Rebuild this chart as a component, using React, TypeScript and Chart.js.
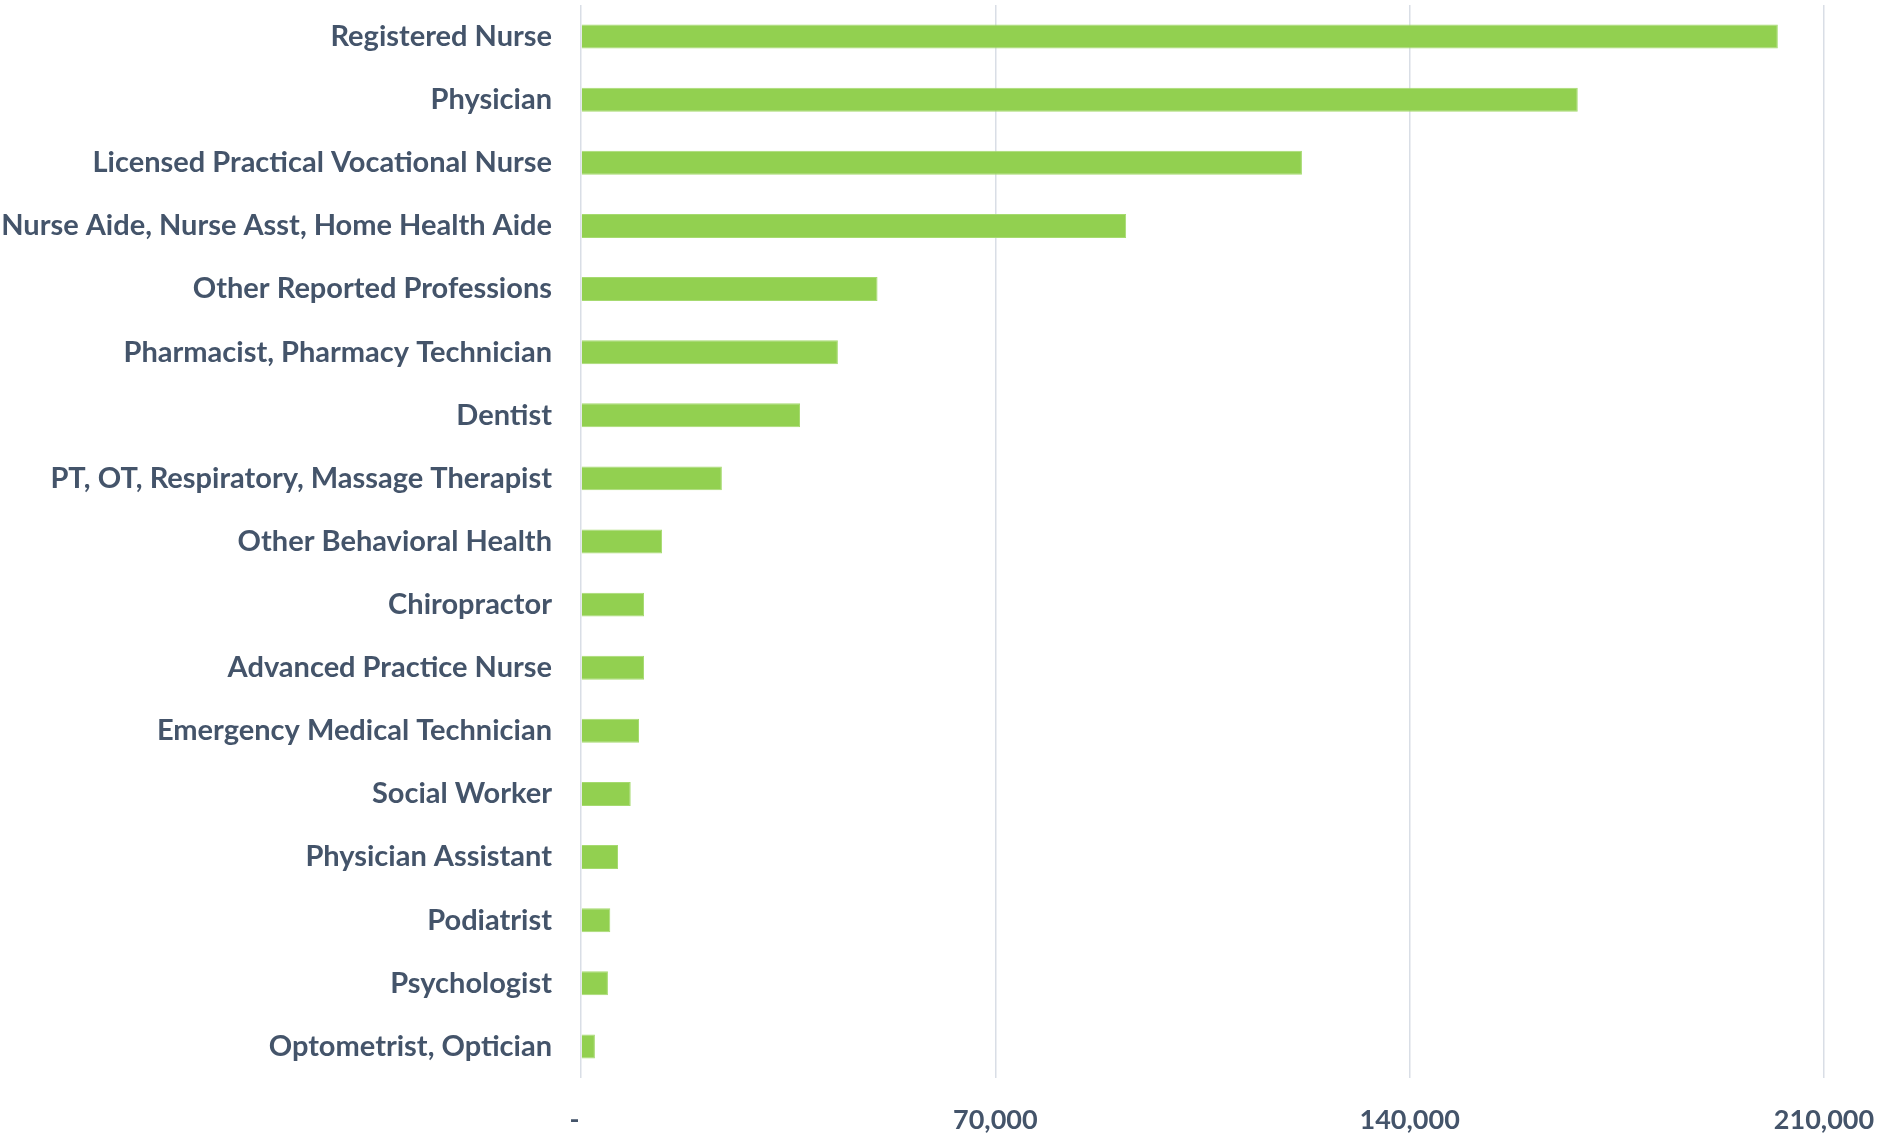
import React, { useEffect, useRef } from "react";
import { Chart, registerables } from "chart.js";

Chart.register(...registerables);

const categories = [
  "Registered Nurse",
  "Physician",
  "Licensed Practical Vocational Nurse",
  "Nurse Aide, Nurse Asst, Home Health Aide",
  "Other Reported Professions",
  "Pharmacist, Pharmacy Technician",
  "Dentist",
  "PT, OT, Respiratory, Massage Therapist",
  "Other Behavioral Health",
  "Chiropractor",
  "Advanced Practice Nurse",
  "Emergency Medical Technician",
  "Social Worker",
  "Physician Assistant",
  "Podiatrist",
  "Psychologist",
  "Optometrist, Optician",
];

const counts = [
  202200, 168400, 121800, 92100, 50100, 43400, 37000, 23800, 13700, 10650,
  10650, 9800, 8400, 6250, 4950, 4550, 2350,
];

const tickValues = [0, 70000, 140000, 210000];

const LABEL_COLOR = "#44546A";
const FONT = "Lato";

export default function App() {
  const canvasRef = useRef<HTMLCanvasElement | null>(null);

  useEffect(() => {
    if (!canvasRef.current) return;
    const chart = new Chart(canvasRef.current, {
      type: "bar",
      data: {
        labels: categories,
        datasets: [
          {
            data: counts,
            backgroundColor: "#92D050",
            borderColor: "#A6DA70",
            borderWidth: 1,
            barPercentage: 0.38,
            categoryPercentage: 1,
          },
        ],
      },
      options: {
        indexAxis: "y",
        animation: false,
        responsive: false,
        maintainAspectRatio: false,
        layout: { padding: { top: 5, right: 59, left: 0, bottom: 0 } },
        plugins: {
          legend: { display: false },
          tooltip: { enabled: false },
        },
        scales: {
          x: {
            min: 0,
            max: 210000,
            afterBuildTicks: (scale: any) => {
              scale.ticks = tickValues.map((v) => ({ value: v }));
            },
            afterFit: (scale: any) => {
              scale.height = 55;
              scale.paddingLeft = 0;
              scale.paddingRight = 0;
              scale.paddingTop = 0;
              scale.paddingBottom = 0;
            },
            grid: {
              color: "#D9DEE6",
              lineWidth: 1.5,
              drawTicks: false,
            },
            border: { display: false },
            ticks: {
              padding: 26,
              color: LABEL_COLOR,
              font: { family: FONT, size: 27, weight: "bold" },
              maxRotation: 0,
              callback: (v: any) =>
                Number(v) === 0 ? "-  " : Number(v).toLocaleString("en-US"),
            },
          },
          y: {
            afterFit: (scale: any) => {
              scale.width = 581;
              scale.paddingLeft = 0;
              scale.paddingRight = 0;
              scale.paddingTop = 0;
              scale.paddingBottom = 0;
            },
            grid: { display: false, drawTicks: false },
            border: { display: false },
            ticks: {
              padding: 29,
              color: LABEL_COLOR,
              font: { family: FONT, size: 29, weight: "bold" },
              autoSkip: false,
            },
          },
        },
      },
    });
    return () => chart.destroy();
  }, []);

  return (
    <div
      style={{
        position: "absolute",
        left: 0,
        top: 0,
        width: 1883,
        height: 1133,
        background: "#FFFFFF",
      }}
    >
      <canvas ref={canvasRef} width={1883} height={1133} />
    </div>
  );
}
